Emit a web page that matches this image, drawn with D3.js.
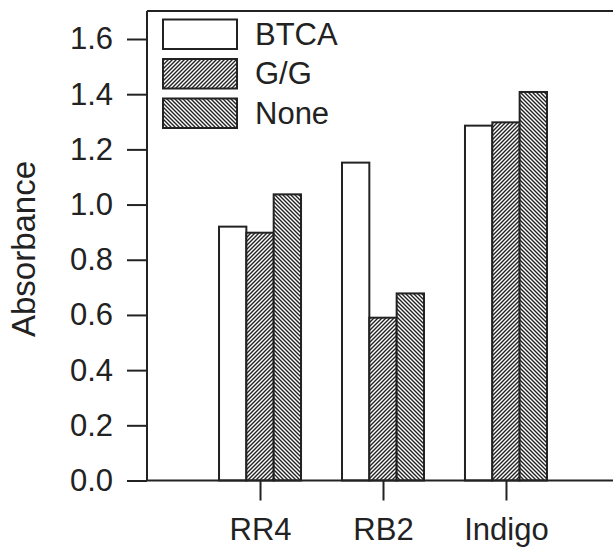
<!DOCTYPE html>
<html lang="en">
<head>
    <script src='https://d3js.org/d3.v7.min.js'></script>
    <style>
        body { margin: 0; background: #fff; }
        text { font-family: "Liberation Sans", Arial, sans-serif; fill: #222; }
    </style>
</head>
<body>
<script>
var categories = ["RR4", "RB2", "Indigo"];
var series = ["BTCA", "G/G", "None"];
var btca = [0.92, 1.152, 1.286];
var gg = [0.898, 0.59, 1.298];
var none = [1.037, 0.678, 1.408];
var yTicks = [0.0, 0.2, 0.4, 0.6, 0.8, 1.0, 1.2, 1.4, 1.6];

var values = [btca, gg, none];
var width = 613, height = 548;
var plotLeft = 147, plotTop = 11, plotBottom = 480.5, plotRight = 619;

var svg = d3.select("body").append("svg")
 .attr("width", width)
 .attr("height", height);

var defs = svg.append("defs");
function hatch(id, d) {
 var p = defs.append("pattern")
  .attr("id", id)
  .attr("patternUnits", "userSpaceOnUse")
  .attr("width", 4).attr("height", 4);
 p.append("rect").attr("width", 4).attr("height", 4).attr("fill", "#fff");
 p.append("path").attr("d", d)
  .attr("stroke", "#222").attr("stroke-width", 1.4);
}
hatch("fwd", "M-1,1 L1,-1 M0,4 L4,0 M3,5 L5,3");
hatch("back", "M-1,3 L1,5 M0,0 L4,4 M3,-1 L5,1");
var fills = ["#fff", "url(#fwd)", "url(#back)"];

var y = d3.scaleLinear().domain([0, 1.6]).range([plotBottom, 39]);
var x = d3.scalePoint().domain(categories).range([plotLeft, plotRight]).padding(0.919);
var xs = d3.scaleBand().domain(series).range([-41, 41]);

// bars
categories.forEach(function(c, ci) {
 series.forEach(function(s, si) {
  var v = values[si][ci];
  svg.append("rect")
   .attr("x", x(c) + xs(s))
   .attr("y", y(v))
   .attr("width", xs.bandwidth())
   .attr("height", y(0) - y(v))
   .attr("fill", fills[si])
   .attr("stroke", "#222")
   .attr("stroke-width", 2);
 });
});

// frame top
svg.append("line")
 .attr("x1", plotLeft).attr("x2", width)
 .attr("y1", plotTop).attr("y2", plotTop)
 .attr("stroke", "#222").attr("stroke-width", 2);

// y axis
var yAxis = svg.append("g")
 .attr("transform", "translate(" + plotLeft + ",0)")
 .call(d3.axisLeft(y).tickValues(yTicks).tickFormat(d3.format(".1f")).tickSize(20).tickSizeOuter(0).tickPadding(14));
yAxis.select(".domain").attr("d", "M0," + plotTop + "V" + plotBottom);
yAxis.selectAll("line, path").attr("stroke", "#222").attr("stroke-width", 2);
yAxis.selectAll("text").attr("font-size", 31).attr("fill", "#222").attr("font-family", "Liberation Sans, Arial, sans-serif");

// x axis
var xAxis = svg.append("g")
 .attr("transform", "translate(0," + plotBottom + ")")
 .call(d3.axisBottom(x).tickSize(20).tickSizeOuter(0).tickPadding(17));
xAxis.select(".domain").attr("d", "M" + plotLeft + ",0H" + width);
xAxis.selectAll("line, path").attr("stroke", "#222").attr("stroke-width", 2);
xAxis.selectAll("text").attr("font-size", 31).attr("fill", "#222").attr("font-family", "Liberation Sans, Arial, sans-serif");

// y title
svg.append("text")
 .attr("transform", "translate(35,249) rotate(-90)")
 .attr("text-anchor", "middle")
 .attr("font-size", 33)
 .text("Absorbance");

// legend
series.forEach(function(s, i) {
 var ly = 19.5 + i * 39.5;
 svg.append("rect")
  .attr("x", 163).attr("y", ly)
  .attr("width", 74).attr("height", 29.5)
  .attr("fill", fills[i])
  .attr("stroke", "#222").attr("stroke-width", 2);
 svg.append("text")
  .attr("x", 255).attr("y", ly + 25)
  .attr("font-size", 31)
  .text(s);
});
</script>
</body>
</html>
